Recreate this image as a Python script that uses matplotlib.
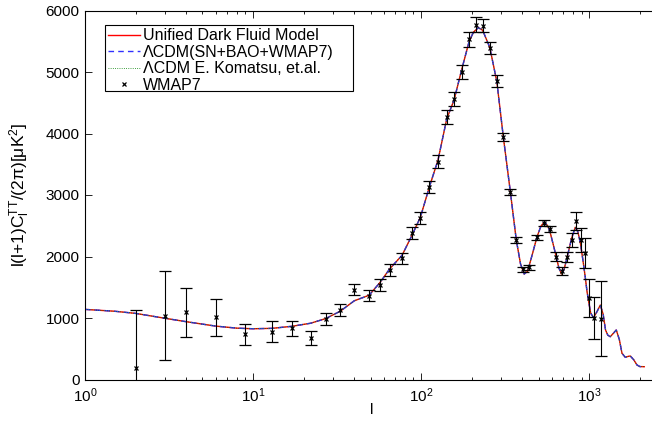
import numpy as np
import matplotlib
matplotlib.use('Agg')
import matplotlib.pyplot as plt
from matplotlib.lines import Line2D
from matplotlib.patches import Rectangle

plt.rcParams['font.family'] = ['Liberation Sans', 'DejaVu Sans']
plt.rcParams['mathtext.fontset'] = 'custom'
plt.rcParams['mathtext.rm'] = 'Liberation Sans'
plt.rcParams['mathtext.it'] = 'Liberation Sans:italic'
plt.rcParams['mathtext.default'] = 'regular'

# model curve (all three models overlap)
model_l = [1, 1.5, 2, 3, 4, 6, 8, 10, 13, 17, 22, 27, 33, 40, 49, 57, 65, 77, 88, 99,
           112, 126, 142, 157, 174, 193, 205, 219, 232, 256, 282, 308, 339, 368, 390,
           410, 430, 460, 488, 515, 542, 565, 583, 610, 636, 660, 684, 710, 740, 785,
           826, 856, 886, 916, 946, 970, 996, 1020, 1060, 1110, 1164, 1210, 1250, 1290,
           1334, 1390, 1448, 1510, 1566, 1638, 1700, 1755, 1840, 1923, 2000, 2125]
model_cl = [1140, 1110, 1075, 995, 940, 868, 835, 825, 832, 865, 915, 990, 1110, 1280, 1370,
            1580, 1800, 2020, 2340, 2640, 3135, 3569, 4240, 4545, 5033, 5500, 5650, 5720,
            5680, 5400, 4842, 3950, 3060, 2270, 1880, 1715, 1760, 2050, 2312, 2490, 2566,
            2500, 2410, 2200, 1997, 1810, 1715, 1800, 1997, 2294, 2475, 2400, 2215, 1950,
            1672, 1430, 1239, 1080, 1005, 1100, 1211, 1060, 805, 720, 696, 750, 805, 650,
            426, 361, 375, 382, 320, 236, 210, 208]
udf_cl = model_cl
lcdm_cl = model_cl
komatsu_cl = model_cl

# WMAP7 binned points
wmap_l = [2, 3, 4, 6, 9, 13, 17, 22, 27, 33, 40, 49, 57, 65, 77, 88, 99, 112, 126, 142,
          157, 174, 193, 212, 232, 257, 282, 308, 339, 368, 401, 441, 488, 537, 583, 636,
          688, 740, 785, 837, 888, 946, 996, 1071, 1167]
wmap_cl = [192, 1037, 1092, 1011, 735, 777, 832, 680, 989, 1130, 1460, 1363, 1537, 1780,
           1971, 2377, 2631, 3130, 3541, 4273, 4561, 4995, 5530, 5770, 5753, 5390, 4854,
           3943, 3049, 2268, 1790, 1824, 2312, 2550, 2447, 1997, 1764, 1997, 2268, 2582,
           2268, 2052, 1320, 995, 990]
wmap_err = [930, 728, 400, 303, 168, 170, 120, 113, 100, 100, 87, 85, 95, 90, 90, 95, 97,
            105, 105, 114, 120, 115, 120, 120, 110, 100, 90, 60, 50, 45, 40, 40, 45, 50,
            50, 70, 70, 80, 110, 145, 190, 245, 310, 340, 615]

fig = plt.figure(figsize=(6.52, 4.22), dpi=100)
ax = fig.add_axes([85 / 652, 42.5 / 422, 574 / 652, 369 / 422])

h1, = ax.plot(model_l, udf_cl, '-', color='red', lw=1.0)
h2, = ax.plot(model_l, lcdm_cl, '--', color='#3030ff', lw=1.0, dashes=(4, 3))
h3, = ax.plot(model_l, komatsu_cl, ':', color='#008000', lw=0.6)
ax.errorbar(wmap_l, wmap_cl, yerr=wmap_err, fmt='x', color='black', ms=3.5, mew=0.9,
            elinewidth=0.8, capsize=4, capthick=0.8)
h4 = Line2D([], [], ls='none', marker='x', color='black', ms=3.5, mew=0.9)

ax.set_xscale('log')
ax.set_xlim(1, 2600)
ax.set_ylim(0, 6000)
ax.set_yticks(np.arange(0, 6001, 1000))

for s in ax.spines.values():
    s.set_linewidth(0.8)
ax.tick_params(which='both', direction='in', top=True, right=True, labelsize=11,
               width=0.6)
ax.tick_params(which='major', length=5, pad=4)
ax.tick_params(axis='x', which='major', pad=5)
ax.tick_params(which='minor', length=2.5)

ax.set_xlabel('l', fontsize=11)
ax.xaxis.set_label_coords(0.5, -0.065)
ax.set_ylabel(r'l(l+1)C$_l^{TT}$/(2π)[μK$^2$]', fontsize=12.5)
ax.yaxis.set_label_coords(-0.093, 0.5)

# legend box drawn by hand, MATLAB style (wide right margin)
box = Rectangle((20 / 574, 1 - 66 / 369 - 14.5 / 369), 248 / 574, 66 / 369,
                transform=ax.transAxes, facecolor='white', edgecolor='black',
                lw=0.8, zorder=4)
ax.add_patch(box)
leg = ax.legend([h1, h2, h3, h4],
                ['Unified Dark Fluid Model', 'ΛCDM(SN+BAO+WMAP7)',
                 'ΛCDM E. Komatsu, et.al.', 'WMAP7'],
                loc='upper left', bbox_to_anchor=(20 / 574, 1 - 14.5 / 369),
                borderaxespad=0, fontsize=11.5, handlelength=2.0, handletextpad=0.2,
                labelspacing=0.1, borderpad=0.2, frameon=False)
leg.set_zorder(5)

fig.savefig('out.png', dpi=100)
